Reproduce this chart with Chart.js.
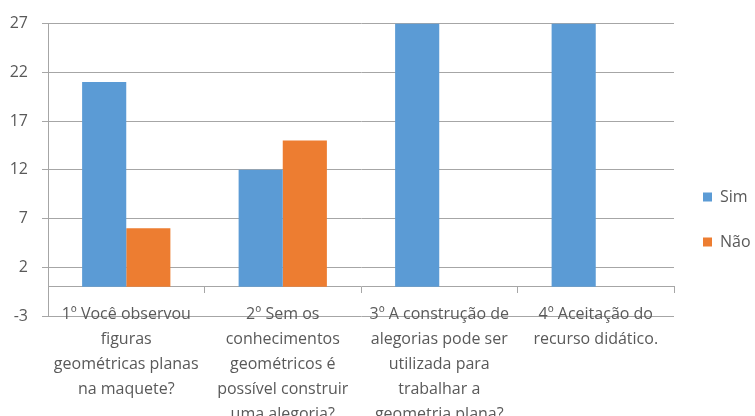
<!DOCTYPE html>
<html>
<head>
<meta charset="utf-8">
<script src="https://cdn.jsdelivr.net/npm/chart.js@4/dist/chart.umd.min.js"></script>
<style>
  body { margin: 0; background: #fff; }
  #wrap { width: 755px; height: 416px; }
</style>
</head>
<body>
<div id="wrap"><canvas id="chart" width="755" height="416"></canvas></div>
<script>
// Chart values
const categories = [
    ['1º Você observou', 'figuras', 'geométricas planas', 'na maquete?'],
    ['2º Sem os', 'conhecimentos', 'geométricos é', 'possível construir', 'uma alegoria?'],
    ['3º A construção de', 'alegorias pode ser', 'utilizada para', 'trabalhar a', 'geometria plana?'],
    ['4º Aceitação do', 'recurso didático.']
];
const simValues = [21, 12, 27, 27];
const naoValues = [6, 15, 0, 0];
const yTicks = [-3, 2, 7, 12, 17, 22, 27];

const gridColor = '#a6a6a6';
const textColor = '#595959';
const fontFamily = '"Open Sans", sans-serif';

const ctx = document.getElementById('chart');

new Chart(ctx, {
    type: 'bar',
    data: {
        labels: categories,
        datasets: [
            {
                label: 'Sim',
                data: simValues,
                backgroundColor: '#5b9bd5',
                categoryPercentage: 0.564,
                barPercentage: 1.0
            },
            {
                label: 'Não',
                data: naoValues,
                backgroundColor: '#ed7d31',
                categoryPercentage: 0.564,
                barPercentage: 1.0
            }
        ]
    },
    options: {
        responsive: false,
        animation: false,
        devicePixelRatio: 1,
        layout: {
            padding: { top: 20, bottom: 100, left: 0, right: 0 }
        },
        plugins: {
            tooltip: { enabled: false },
            legend: {
                position: 'right',
                align: 'start',
                maxWidth: 81,
                // empty title only pushes the legend items down to mid-height
                title: {
                    display: true,
                    text: '',
                    font: { size: 10, lineHeight: 1 },
                    padding: { top: 130, bottom: 0 }
                },
                labels: {
                    boxWidth: 9,
                    boxHeight: 9,
                    padding: 29,
                    color: textColor,
                    font: { family: fontFamily, size: 16 }
                }
            }
        },
        scales: {
            x: {
                position: { y: 0 },
                grid: {
                    display: true,
                    drawOnChartArea: false,
                    drawTicks: true,
                    tickLength: 6,
                    color: gridColor
                },
                border: { display: true, color: gridColor },
                ticks: {
                    autoSkip: false,
                    maxRotation: 0,
                    minRotation: 0,
                    padding: 9,
                    color: textColor,
                    font: { family: fontFamily, size: 16, lineHeight: 1.56 }
                }
            },
            y: {
                min: -3,
                max: 27,
                afterBuildTicks: (scale) => {
                    scale.ticks = yTicks.map(v => ({ value: v }));
                },
                afterFit: (scale) => {
                    scale.width = 48;
                },
                grid: {
                    color: gridColor,
                    drawTicks: true,
                    tickLength: 6
                },
                border: { display: true, color: gridColor },
                ticks: {
                    padding: 14,
                    color: textColor,
                    font: { family: fontFamily, size: 16 }
                }
            }
        }
    }
});
</script>
</body>
</html>
